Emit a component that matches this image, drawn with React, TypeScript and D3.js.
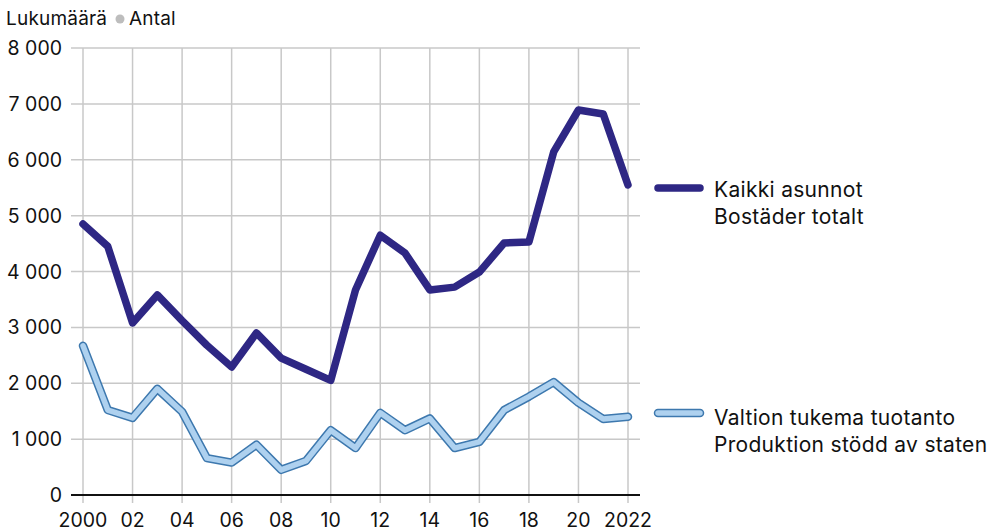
import React from "react";
import * as d3 from "d3";

const years = d3.range(2000, 2023);
const totalValues = [4850, 4450, 3080, 3580, 3120, 2680, 2290, 2900, 2450, 2250, 2050, 3670, 4650, 4330, 3670, 3720, 3990, 4510, 4530, 6140, 6890, 6820, 5550];
const supportedValues = [2670, 1520, 1380, 1900, 1490, 660, 580, 900, 450, 610, 1160, 840, 1470, 1160, 1370, 840, 950, 1520, 1760, 2020, 1650, 1360, 1400];
const yTicks = [0, 1000, 2000, 3000, 4000, 5000, 6000, 7000, 8000];
const xTickYears = [2000, 2002, 2004, 2006, 2008, 2010, 2012, 2014, 2016, 2018, 2020, 2022];
const xTickLabels = ["2000", "02", "04", "06", "08", "10", "12", "14", "16", "18", "20", "2022"];
const legendTotal = ["Kaikki asunnot", "Bostäder totalt"];
const legendSupported = ["Valtion tukema tuotanto", "Produktion stödd av staten"];

const W = 998, H = 531;
const FONT = "Inter, 'Noto Sans', sans-serif";

export default function App() {
  const x = d3.scaleLinear().domain([2000, 2022]).range([83, 628]);
  const y = d3.scaleLinear().domain([0, 8000]).range([495, 48]);
  const line = d3.line<number>().x((_, i) => x(years[i])).y((d) => y(d));
  const fmt = (v: number) => (v >= 1000 ? d3.format(",")(v).replace(",", " ") : String(v));
  return (
    <svg width={W} height={H} style={{ position: "absolute", left: 0, top: 0 }} fontFamily={FONT}>
      <rect width={W} height={H} fill="#fff" />
      <text x={6} y={25} fontSize={19} fill="#111" letterSpacing={0.2}>Lukumäärä</text>
      <circle cx={120} cy={19} r={4.5} fill="#bdbdbd" />
      <text x={129} y={25} fontSize={19} fill="#111" letterSpacing={0.2}>Antal</text>
      {xTickYears.map((yr) => (
        <line key={"v" + yr} x1={x(yr)} x2={x(yr)} y1={y(8000)} y2={y(0) + 8} stroke="#c8c8c8" strokeWidth={1.5} />
      ))}
      {yTicks.filter((t) => t > 0).map((t) => (
        <line key={"h" + t} x1={71} x2={640} y1={y(t)} y2={y(t)} stroke="#c8c8c8" strokeWidth={1.5} />
      ))}
      <line x1={71} x2={640} y1={y(0)} y2={y(0)} stroke="#111" strokeWidth={2} />
      {yTicks.map((t) => (
        <text key={"yl" + t} x={62} y={y(t) + 7} textAnchor="end" fontSize={19.5} fill="#111">{fmt(t)}</text>
      ))}
      {xTickYears.map((yr, i) => (
        <text key={"xl" + yr} x={x(yr)} y={527} textAnchor="middle" fontSize={19.5} fill="#111">{xTickLabels[i]}</text>
      ))}
      <path d={line(supportedValues) || ""} fill="none" stroke="#3d78ae" strokeWidth={8.5} strokeLinejoin="round" strokeLinecap="round" />
      <path d={line(supportedValues) || ""} fill="none" stroke="#aed1ef" strokeWidth={5.5} strokeLinejoin="round" strokeLinecap="round" />
      <path d={line(totalValues) || ""} fill="none" stroke="#2e2784" strokeWidth={7.5} strokeLinejoin="round" strokeLinecap="round" />
      <line x1={658} x2={700} y1={188} y2={188} stroke="#2e2784" strokeWidth={7.5} strokeLinecap="round" />
      <text x={714} y={197} fontSize={21} fill="#111" letterSpacing={0.3}>{legendTotal[0]}</text>
      <text x={714} y={224} fontSize={21} fill="#111" letterSpacing={0.3}>{legendTotal[1]}</text>
      <line x1={658} x2={700} y1={413} y2={413} stroke="#3d78ae" strokeWidth={8.5} strokeLinecap="round" />
      <line x1={658} x2={700} y1={413} y2={413} stroke="#aed1ef" strokeWidth={5.5} strokeLinecap="round" />
      <text x={714} y={425} fontSize={21} fill="#111" letterSpacing={0.3}>{legendSupported[0]}</text>
      <text x={714} y={452} fontSize={21} fill="#111" letterSpacing={0.3}>{legendSupported[1]}</text>
    </svg>
  );
}
